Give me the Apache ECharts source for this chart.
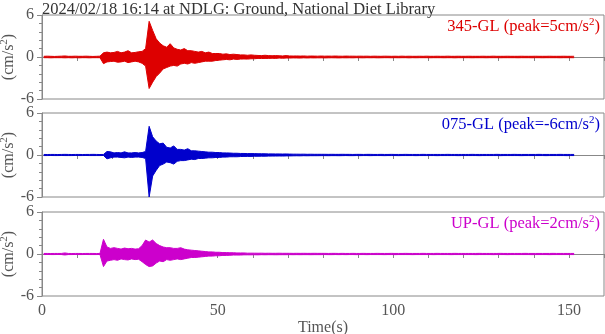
<!DOCTYPE html>
<html>
<head>
<meta charset="utf-8">
<script src="https://cdn.jsdelivr.net/npm/echarts@6/dist/echarts.min.js"></script>
<style>
  html, body { margin: 0; padding: 0; background: #fff; }
  #main { width: 605px; height: 334px; }
</style>
</head>
<body>
<div id="main"></div>
<script>
// envelope of each record, one value per 1 s bin (max and min)
const redUp = [
  0.1,0.12,0.1,0.08,0.1,0.12,0.15,0.1,0.1,0.12,
  0.1,0.1,0.12,0.1,0.08,0.1,0.12,0.6,0.7,0.6,
  0.65,0.8,0.6,0.7,0.9,0.6,0.65,0.75,0.8,1.2,
  5.1,3.8,2.6,2.0,1.6,1.4,1.9,1.3,1.1,1.0,
  1.2,0.9,0.9,0.8,0.7,0.8,0.6,0.7,0.5,0.5,
  0.5,0.4,0.45,0.35,0.4,0.35,0.3,0.3,0.25,0.3,
  0.25,0.22,0.2,0.25,0.2,0.18,0.2,0.18,0.15,0.2,
  0.15,0.14,0.15,0.13,0.15,0.12,0.14,0.13,0.12,0.14,
  0.12,0.13,0.12,0.14,0.12,0.11,0.13,0.12,0.12,0.11,
  0.12,0.11,0.12,0.1,0.12,0.11,0.1,0.12,0.11,0.1,
  0.11,0.1,0.12,0.1,0.11,0.1,0.1,0.11,0.1,0.12,
  0.1,0.1,0.11,0.1,0.1,0.12,0.1,0.1,0.11,0.1,
  0.1,0.11,0.1,0.1,0.1,0.11,0.1,0.1,0.12,0.1,
  0.1,0.1,0.11,0.1,0.1,0.1,0.11,0.1,0.1,0.1,
  0.11,0.1,0.1,0.1,0.11,0.1,0.1,0.1,0.11,0.1,
  0.1,0.1
]
const redLo = [
  -0.1,-0.1,-0.12,-0.1,-0.1,-0.1,-0.12,-0.1,-0.12,-0.1,
  -0.12,-0.1,-0.1,-0.12,-0.1,-0.1,-0.1,-0.95,-0.7,-0.65,
  -0.6,-0.75,-0.7,-0.6,-0.8,-0.7,-0.6,-0.7,-0.9,-1.3,
  -4.5,-3.6,-2.8,-2.3,-1.7,-1.5,-1.3,-1.2,-1.3,-1.0,
  -0.9,-1.0,-0.8,-0.9,-0.8,-0.7,-0.6,-0.6,-0.6,-0.5,
  -0.45,-0.4,-0.35,-0.4,-0.3,-0.35,-0.3,-0.28,-0.3,-0.25,
  -0.25,-0.2,-0.22,-0.2,-0.2,-0.18,-0.2,-0.15,-0.18,-0.15,
  -0.15,-0.13,-0.14,-0.15,-0.12,-0.14,-0.12,-0.13,-0.12,-0.12,
  -0.13,-0.12,-0.11,-0.12,-0.13,-0.11,-0.12,-0.11,-0.12,-0.1,
  -0.11,-0.12,-0.1,-0.11,-0.1,-0.12,-0.11,-0.1,-0.1,-0.11,
  -0.1,-0.11,-0.1,-0.1,-0.12,-0.1,-0.11,-0.1,-0.1,-0.1,
  -0.11,-0.1,-0.1,-0.1,-0.11,-0.1,-0.1,-0.12,-0.1,-0.1,
  -0.1,-0.1,-0.11,-0.1,-0.1,-0.1,-0.11,-0.1,-0.1,-0.1,
  -0.11,-0.1,-0.1,-0.1,-0.1,-0.11,-0.1,-0.1,-0.1,-0.11,
  -0.1,-0.1,-0.11,-0.1,-0.1,-0.1,-0.1,-0.11,-0.1,-0.1,
  -0.1,-0.1
]
const blueUp = [
  0.08,0.07,0.08,0.08,0.07,0.08,0.09,0.08,0.07,0.08,
  0.08,0.07,0.08,0.08,0.09,0.08,0.07,0.08,0.5,0.45,
  0.3,0.35,0.3,0.45,0.3,0.3,0.35,0.3,0.35,0.5,
  4.1,2.6,2.0,1.6,1.7,1.1,1.0,1.3,0.8,0.8,
  0.7,0.9,0.6,0.6,0.55,0.5,0.45,0.4,0.4,0.35,
  0.35,0.3,0.3,0.28,0.25,0.25,0.22,0.22,0.2,0.2,
  0.2,0.18,0.18,0.17,0.16,0.16,0.15,0.15,0.14,0.15,
  0.13,0.12,0.12,0.11,0.12,0.1,0.11,0.1,0.1,0.1,
  0.1,0.09,0.1,0.09,0.09,0.1,0.09,0.09,0.08,0.09,
  0.09,0.08,0.09,0.09,0.08,0.08,0.09,0.08,0.08,0.09,
  0.08,0.08,0.08,0.09,0.08,0.08,0.08,0.08,0.09,0.08,
  0.08,0.08,0.08,0.08,0.08,0.09,0.08,0.08,0.08,0.08,
  0.08,0.08,0.09,0.08,0.08,0.08,0.08,0.08,0.08,0.09,
  0.08,0.08,0.08,0.08,0.09,0.08,0.08,0.08,0.08,0.08,
  0.08,0.09,0.08,0.08,0.08,0.08,0.08,0.09,0.08,0.08,
  0.08,0.08
]
const blueLo = [
  -0.08,-0.08,-0.07,-0.08,-0.08,-0.07,-0.08,-0.08,-0.08,-0.07,
  -0.08,-0.08,-0.07,-0.08,-0.08,-0.08,-0.08,-0.07,-0.55,-0.4,
  -0.3,-0.3,-0.35,-0.4,-0.3,-0.35,-0.3,-0.3,-0.35,-0.5,
  -6.0,-3.0,-2.2,-1.5,-1.3,-1.0,-1.1,-1.3,-0.9,-0.8,
  -0.8,-0.7,-0.6,-0.65,-0.5,-0.5,-0.45,-0.4,-0.4,-0.35,
  -0.35,-0.3,-0.3,-0.25,-0.25,-0.25,-0.22,-0.2,-0.2,-0.2,
  -0.18,-0.18,-0.17,-0.17,-0.16,-0.15,-0.15,-0.14,-0.15,-0.13,
  -0.13,-0.12,-0.11,-0.12,-0.1,-0.11,-0.1,-0.1,-0.1,-0.09,
  -0.09,-0.1,-0.09,-0.09,-0.1,-0.09,-0.08,-0.09,-0.09,-0.08,
  -0.09,-0.08,-0.08,-0.09,-0.08,-0.08,-0.08,-0.09,-0.08,-0.08,
  -0.08,-0.09,-0.08,-0.08,-0.08,-0.08,-0.09,-0.08,-0.08,-0.08,
  -0.08,-0.08,-0.09,-0.08,-0.08,-0.08,-0.08,-0.08,-0.09,-0.08,
  -0.08,-0.08,-0.08,-0.08,-0.09,-0.08,-0.08,-0.08,-0.08,-0.08,
  -0.09,-0.08,-0.08,-0.08,-0.08,-0.08,-0.09,-0.08,-0.08,-0.08,
  -0.08,-0.08,-0.08,-0.09,-0.08,-0.08,-0.08,-0.08,-0.08,-0.09,
  -0.08,-0.08
]
const pinkUp = [
  0.08,0.08,0.07,0.08,0.08,0.08,0.15,0.08,0.07,0.08,
  0.08,0.07,0.08,0.08,0.08,0.07,0.08,2.1,1.0,0.8,
  0.9,0.8,0.7,0.85,0.75,0.8,0.7,0.75,1.2,2.0,
  1.7,2.0,1.5,1.2,1.0,0.9,0.9,0.8,0.8,0.9,
  0.7,0.6,0.55,0.5,0.45,0.4,0.35,0.3,0.3,0.25,
  0.25,0.2,0.2,0.18,0.18,0.15,0.15,0.15,0.12,0.12,
  0.12,0.11,0.12,0.1,0.11,0.1,0.1,0.11,0.1,0.1,
  0.1,0.09,0.1,0.09,0.1,0.09,0.09,0.1,0.09,0.09,
  0.09,0.08,0.09,0.09,0.08,0.09,0.08,0.08,0.09,0.08,
  0.08,0.09,0.08,0.08,0.08,0.09,0.08,0.08,0.08,0.09,
  0.08,0.08,0.08,0.09,0.08,0.08,0.08,0.08,0.09,0.08,
  0.08,0.08,0.09,0.08,0.08,0.08,0.08,0.09,0.08,0.08,
  0.08,0.08,0.08,0.08,0.09,0.08,0.08,0.08,0.08,0.08,
  0.09,0.08,0.08,0.08,0.08,0.08,0.08,0.09,0.08,0.08,
  0.08,0.08,0.08,0.08,0.08,0.09,0.08,0.08,0.08,0.08,
  0.08,0.08
]
const pinkLo = [
  -0.08,-0.07,-0.08,-0.08,-0.07,-0.08,-0.14,-0.08,-0.08,-0.07,
  -0.08,-0.08,-0.07,-0.08,-0.08,-0.08,-0.07,-1.8,-1.0,-0.9,
  -0.8,-0.9,-0.7,-0.8,-0.85,-0.7,-0.8,-0.75,-1.1,-1.5,
  -1.8,-1.7,-1.3,-1.0,-1.1,-0.8,-0.9,-0.8,-0.7,-0.8,
  -0.7,-0.6,-0.5,-0.5,-0.45,-0.4,-0.35,-0.3,-0.3,-0.25,
  -0.25,-0.2,-0.2,-0.18,-0.15,-0.15,-0.15,-0.12,-0.12,-0.12,
  -0.11,-0.12,-0.1,-0.11,-0.1,-0.1,-0.11,-0.1,-0.1,-0.1,
  -0.09,-0.1,-0.09,-0.1,-0.09,-0.09,-0.1,-0.09,-0.09,-0.09,
  -0.08,-0.09,-0.09,-0.08,-0.09,-0.08,-0.09,-0.08,-0.08,-0.09,
  -0.08,-0.08,-0.09,-0.08,-0.08,-0.08,-0.08,-0.09,-0.08,-0.08,
  -0.09,-0.08,-0.08,-0.08,-0.08,-0.09,-0.08,-0.08,-0.08,-0.08,
  -0.08,-0.09,-0.08,-0.08,-0.08,-0.08,-0.09,-0.08,-0.08,-0.08,
  -0.08,-0.08,-0.08,-0.09,-0.08,-0.08,-0.08,-0.08,-0.09,-0.08,
  -0.08,-0.08,-0.09,-0.08,-0.08,-0.08,-0.08,-0.08,-0.08,-0.09,
  -0.08,-0.08,-0.08,-0.08,-0.09,-0.08,-0.08,-0.08,-0.08,-0.08,
  -0.08,-0.08
]

const labels = ['345-GL (peak=5cm/s{sup|2})', '075-GL (peak=-6cm/s{sup|2})', 'UP-GL (peak=2cm/s{sup|2})']
const colors = ['#dd0000', '#0000cc', '#cc00cc']
const yTicks = [-6, 0, 6]
const xLabelStep = 50

const font = 'Liberation Serif'
const gray = '#888'
const textGray = '#555'
const tops = [15, 113, 212]

const envelopes = [[redUp, redLo], [blueUp, blueLo], [pinkUp, pinkLo]]

const sup = { fontSize: 11, verticalAlign: 'top', padding: [0, 0, 8, 0] }

// each record: max and min of every bin, both filled toward zero -> solid band
const series = []
envelopes.forEach((env, i) => {
  env.forEach(arr => {
    series.push({
      type: 'line',
      xAxisIndex: i,
      yAxisIndex: i,
      data: arr.map((v, k) => [k + 0.5, v]),
      showSymbol: false,
      lineStyle: { width: 1, color: colors[i] },
      areaStyle: { color: colors[i], opacity: 1, origin: 0 }
    })
  })
})

const option = {
  animation: false,
  title: [{
    text: '2024/02/18 16:14 at NDLG: Ground, National Diet Library',
    left: 37,
    top: -4,
    textStyle: { fontFamily: font, fontSize: 16.5, fontWeight: 'normal', color: '#333' }
  }].concat(labels.map((t, i) => ({
    text: t,
    right: 0,
    top: tops[i] - 3,
    textStyle: {
      fontFamily: font, fontSize: 16.5, fontWeight: 'normal', color: colors[i],
      rich: { sup: Object.assign({ color: colors[i], fontFamily: font }, sup) }
    }
  }))),
  grid: tops.map(t => ({
    left: 42, right: 1, top: t, height: 84,
    containLabel: false, outerBoundsMode: 'none',
    show: true, borderColor: gray, borderWidth: 1
  })),
  xAxis: tops.map((t, i) => ({
    gridIndex: i,
    type: 'value',
    min: 0,
    max: 160,
    interval: 10,
    name: i === 2 ? 'Time(s)' : '',
    nameLocation: 'middle',
    nameGap: 24,
    nameMoveOverlap: false,
    nameTextStyle: { fontFamily: font, fontSize: 16, color: textGray },
    axisLine: { lineStyle: { color: gray } },
    axisTick: { show: true, length: 4, lineStyle: { color: gray } },
    splitLine: { show: false },
    axisLabel: {
      show: i === 2,
      margin: 7,
      fontFamily: font,
      fontSize: 16,
      color: textGray,
      formatter: v => (v % xLabelStep === 0 ? String(v) : '')
    }
  })),
  yAxis: tops.map((t, i) => ({
    gridIndex: i,
    type: 'value',
    min: yTicks[0],
    max: yTicks[2],
    interval: 6,
    name: '(cm/s{sup|2})',
    nameLocation: 'middle',
    nameRotate: 90,
    nameGap: 24,
    nameMoveOverlap: false,
    nameTextStyle: {
      fontFamily: font, fontSize: 16, color: textGray,
      rich: { sup: Object.assign({ color: textGray, fontFamily: font }, sup) }
    },
    axisLine: { show: true, lineStyle: { color: gray } },
    axisTick: { show: true, length: 5, lineStyle: { color: gray } },
    minorTick: { show: true, splitNumber: 5, length: 3, lineStyle: { color: gray } },
    splitLine: { show: false },
    axisLabel: { margin: 8, fontFamily: font, fontSize: 16, color: textGray }
  })),
  series: series
}

const myChart = echarts.init(document.getElementById('main'))
myChart.setOption(option)
</script>
</body>
</html>
